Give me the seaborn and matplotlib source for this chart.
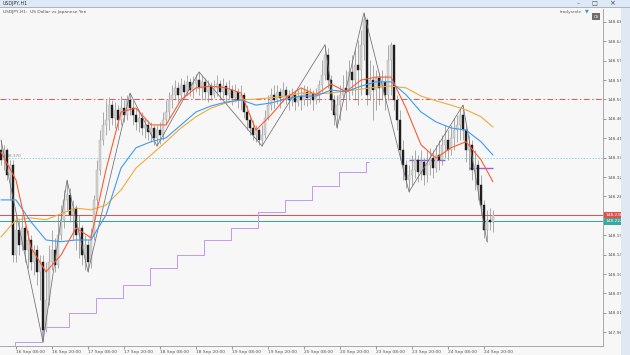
import numpy as np
import pandas as pd
import matplotlib
matplotlib.use("Agg")
import matplotlib.pyplot as plt
import matplotlib.transforms as mtransforms
from matplotlib.patches import Rectangle
import seaborn as sns

sns.set_theme(style="white")
plt.rcParams['font.family'] = ['DejaVu Sans']

# prices are stored in points above 148.000 (1 point = 0.001)
BASE = 148.0
PT = 0.001

open0_pts = 388
close_pts = [365, 388, 330, 353, 144, 202, 168, 207, 156, 179, 128, 156, 105, 128, -30, 40, 128, 156, 121, 191,
             226, 272, 284, 237, 253, 191, 207, 144, 168, 128, 191, 272, 342, 411, 446, 458, 492, 462, 481, 458,
             485, 469, 504, 485, 469, 453, 462, 439, 446, 430, 439, 416, 434, 423, 458, 476, 504, 516, 532, 516,
             539, 523, 546, 527, 541, 550, 532, 546, 523, 536, 516, 532, 541, 523, 536, 516, 527, 509, 523, 504,
             516, 476, 458, 439, 423, 434, 411, 423, 462, 492, 516, 504, 523, 509, 527, 513, 504, 516, 499, 513,
             504, 523, 509, 518, 504, 516, 539, 562, 608, 550, 504, 469, 492, 516, 532, 523, 569, 550, 585, 574,
             632, 690, 516, 550, 527, 555, 532, 546, 516, 597, 632, 504, 458, 388, 353, 318, 330, 342, 365, 337,
             360, 330, 353, 369, 346, 376, 365, 400, 411, 388, 416, 434, 446, 469, 434, 388, 400, 342, 353, 307,
             260, 202, 226, 221, 236]
high_pts = [411, 400, 393, 365, 365, 237, 226, 237, 214, 202, 191, 168, 168, 144, 144, 128, 168, 202, 184, 237,
            260, 295, 318, 300, 272, 260, 237, 214, 191, 179, 207, 284, 365, 434, 476, 504, 511, 504, 499, 492,
            513, 504, 516, 520, 504, 485, 481, 476, 462, 458, 453, 446, 446, 453, 476, 504, 523, 539, 550, 546,
            555, 550, 562, 555, 560, 564, 569, 560, 555, 550, 546, 550, 562, 550, 555, 546, 550, 539, 541, 532,
            539, 523, 492, 469, 458, 446, 439, 446, 481, 516, 532, 539, 539, 532, 546, 536, 527, 532, 527, 527,
            532, 539, 536, 532, 527, 532, 550, 597, 632, 625, 562, 516, 516, 539, 562, 574, 597, 608, 620, 643,
            666, 706, 694, 597, 585, 574, 569, 574, 562, 632, 639, 632, 516, 481, 411, 365, 353, 376, 388, 376,
            388, 369, 388, 393, 388, 400, 411, 423, 446, 434, 446, 462, 469, 485, 492, 446, 423, 411, 388, 365,
            330, 272, 249, 253, 249]
low_pts = [353, 342, 318, 272, 128, 128, 144, 156, 128, 114, 110, 98, 75, 40, -57, -34, 28, 110, 105, 114,
           179, 207, 249, 221, 179, 156, 137, 121, 110, 105, 114, 179, 260, 330, 400, 423, 434, 446, 439, 434,
           446, 453, 458, 469, 446, 434, 430, 423, 416, 411, 407, 400, 397, 402, 411, 446, 462, 485, 504, 499,
           504, 509, 516, 513, 509, 523, 516, 504, 504, 499, 504, 509, 513, 504, 509, 495, 504, 492, 499, 485,
           481, 462, 434, 423, 411, 407, 400, 397, 416, 458, 481, 485, 495, 485, 499, 495, 481, 490, 481, 490,
           481, 492, 490, 495, 481, 495, 499, 523, 550, 532, 481, 446, 439, 458, 504, 481, 504, 516, 504, 492,
           516, 597, 492, 504, 458, 481, 492, 504, 481, 504, 516, 481, 434, 365, 318, 300, 291, 307, 323, 314,
           318, 307, 314, 330, 323, 337, 342, 353, 369, 365, 376, 388, 407, 411, 411, 360, 342, 318, 295, 272,
           237, 184, 175, 202, 198]

# moving averages, read at every 5th bar
ma_idx = [0, 5, 10, 15, 20, 25, 30, 35, 40, 45, 50, 55, 60, 65, 70, 75, 80, 85, 90, 95,
          100, 105, 110, 115, 120, 125, 130, 135, 140, 145, 150, 155, 160, 164]
ma_fast_pts = [383, 318, 161, 105, 144, 207, 184, 342, 476, 485, 446, 446, 504, 532, 536, 532, 520, 434, 469, 509,
               532, 516, 541, 523, 550, 557, 557, 485, 400, 369, 393, 407, 365, 314]
ma_mid_pts = [272, 272, 221, 179, 175, 179, 179, 237, 346, 393, 407, 416, 446, 476, 490, 499, 504, 492, 497, 506,
              513, 513, 527, 523, 536, 546, 546, 516, 476, 453, 439, 434, 407, 376]
ma_slow_pts = [186, 226, 230, 226, 240, 253, 249, 260, 295, 346, 376, 407, 439, 465, 485, 497, 504, 506, 509, 513,
               520, 518, 520, 525, 529, 534, 536, 532, 513, 502, 492, 481, 465, 441]

# zigzag pivots
zz_idx = [0, 14, 22, 29, 43, 52, 66, 87, 108, 112, 121, 136, 154, 162]
zz_pts = [411, -57, 318, 105, 520, 397, 569, 397, 632, 439, 706, 291, 492, 175]

# purple staircase (bar edges and levels)
step_idx = [-0.5, 4.5, 13.5, 22.5, 31.5, 40.5, 49.5, 58.5, 67.5, 76.5, 85.5, 94.5, 103.5, 112.5, 121.5, 122.5]
step_pts = [-67, -57, -23, 10, 45, 75, 114, 144, 179, 207, 244, 272, 304, 337, 360]
seg_start = [136, 156]
seg_end = [148, 164]
seg_pts = [365, 346]

level_dashdot = 148.505
level_dotted = 148.370
bid_price = 148.236
ask_price = 148.222

price_ticks = [148.685, 148.640, 148.595, 148.550, 148.505, 148.460, 148.415, 148.370, 148.325, 148.280,
               148.190, 148.145, 148.100, 148.055, 148.010, 147.965]
time_idx = [5, 17, 29, 41, 53, 65, 77, 89, 101, 113, 125, 137, 149, 161]
time_labels = ['16 Sep 08:00', '16 Sep 20:00', '17 Sep 08:00', '17 Sep 20:00', '18 Sep 08:00',
               '18 Sep 20:00', '19 Sep 08:00', '19 Sep 20:00', '20 Sep 08:00', '20 Sep 20:00',
               '23 Sep 08:00', '23 Sep 20:00', '24 Sep 08:00', '24 Sep 20:00']

W, H = 630, 355


def to_price(pts):
    return BASE + np.asarray(pts, dtype=float) * PT


closes = to_price(close_pts)
opens = np.concatenate([[to_price(open0_pts)], closes[:-1]])
highs = np.maximum(to_price(high_pts), np.maximum(opens, closes))
lows = np.minimum(to_price(low_pts), np.minimum(opens, closes))
bars = pd.DataFrame({'idx': np.arange(len(closes)), 'open': opens, 'high': highs,
                     'low': lows, 'close': closes})
ma_df = pd.DataFrame({'idx': ma_idx, 'fast': to_price(ma_fast_pts),
                      'mid': to_price(ma_mid_pts), 'slow': to_price(ma_slow_pts)})

fig = plt.figure(figsize=(W / 100, H / 100), dpi=100, facecolor='#f7f7f7')
ax = fig.add_axes([0, 9 / H, 603 / W, 337 / H])
ax.set_facecolor('#f7f7f7')

# horizontal levels
ax.axhline(level_dashdot, color='#ff4a4a', lw=0.7, ls=(0, (6, 2.5, 1.5, 2.5)))
ax.axhline(level_dotted, color='#8fd8e2', lw=0.7, ls=(0, (1.5, 1.5)))
ax.axhline(bid_price, color='#e85048', lw=0.7, antialiased=False)
ax.axhline(ask_price, color='#35a898', lw=0.7, antialiased=False)

# purple staircase
stair = to_price(step_pts)
ax.step(step_idx, np.append(stair, stair[-1]), where='post', color='#bf9af5', lw=0.7)
ax.hlines(to_price(seg_pts), seg_start, seg_end, color='#9b59e6', lw=1.0)

# candles
bull = bars['close'] >= bars['open']
ax.vlines(bars['idx'], bars['low'], bars['high'], color='#8a8a8a', lw=0.5, zorder=3)
ax.bar(bars['idx'][bull], (bars['close'] - bars['open'])[bull], bottom=bars['open'][bull],
       width=0.7, color='#d4d4d4', edgecolor='#a8a8a8', linewidth=0.3, zorder=4)
ax.bar(bars['idx'][~bull], (bars['close'] - bars['open'])[~bull], bottom=bars['open'][~bull],
       width=0.7, color='#1e1e1e', edgecolor='#1e1e1e', linewidth=0.3, zorder=4)

# zigzag and moving averages
ax.plot(zz_idx, to_price(zz_pts), color='#6e6e6e', lw=0.55, zorder=5)
sns.lineplot(data=ma_df, x='idx', y='slow', ax=ax, color='#f0aa3c', lw=0.8, zorder=6)
sns.lineplot(data=ma_df, x='idx', y='mid', ax=ax, color='#3d9bf5', lw=0.8, zorder=6)
sns.lineplot(data=ma_df, x='idx', y='fast', ax=ax, color='#ff5b2e', lw=0.8, zorder=6)

ax.set_xlim(-1 / 3, 602 / 3)
ax.set_ylim(147.933, 148.715)
ax.set_xlabel('')
ax.set_ylabel('')

ax.yaxis.tick_right()
ax.set_yticks(price_ticks)
ax.set_yticklabels([f'{p:.3f}' for p in price_ticks])
ax.set_xticks(time_idx)
ax.set_xticklabels(time_labels, ha='left')
ax.tick_params(axis='both', labelsize=3.2, colors='#555555', length=1.8, width=0.4, pad=1.2)
ax.tick_params(axis='y', right=True, left=False)
ax.tick_params(axis='x', bottom=True)
for s in ['top', 'left']:
    ax.spines[s].set_visible(False)
for s in ['right', 'bottom']:
    ax.spines[s].set_color('#9a9a9a')
    ax.spines[s].set_linewidth(0.6)

# price boxes on the axis
trans = mtransforms.blended_transform_factory(ax.transAxes, ax.transData)
ax.text(1.004, bid_price, f'{bid_price:.3f}', transform=trans, fontsize=3.1, color='white',
        va='center', ha='left', bbox=dict(boxstyle='square,pad=0.25', fc='#e0504a', ec='none'))
ax.text(1.004, ask_price, f'{ask_price:.3f}', transform=trans, fontsize=3.1, color='white',
        va='center', ha='left', bbox=dict(boxstyle='square,pad=0.25', fc='#3aa89a', ec='none'))
ax.text(0.008, level_dotted, f'{level_dotted:.3f}', transform=trans, fontsize=3.0,
        color='#8a8a8a', va='bottom', ha='left')

# window frame
fig.patches.append(Rectangle((0, 1 - 7 / H), 1, 7 / H, transform=fig.transFigure,
                             fc='#dde9f7', ec='none', zorder=0))
fig.patches.append(Rectangle((0, 1 - 8 / H), 1, 1 / H, transform=fig.transFigure,
                             fc='#aab4c2', ec='none', zorder=0))
fig.patches.append(Rectangle((621 / W, 0), 9 / W, 1 - 8 / H, transform=fig.transFigure,
                             fc='#dfe8f3', ec='none', zorder=0))
fig.text(3 / W, 1 - 3.5 / H, 'USDJPY,H1', fontsize=3.4, color='#333333', va='center')
fig.text(578 / W, 1 - 3.5 / H, '–', fontsize=4.5, color='#444444', va='center', ha='center')
fig.text(594 / W, 1 - 3.5 / H, '□', fontsize=4.5, color='#444444', va='center', ha='center')
fig.text(612 / W, 1 - 3.5 / H, '×', fontsize=5, color='#444444', va='center', ha='center')
fig.text(3 / W, 1 - 12 / H, 'USDJPY,H1:  US Dollar vs Japanese Yen', fontsize=3.2,
         color='#555555', va='center')
fig.text(560 / W, 1 - 11.5 / H, 'tradysrole', fontsize=3.2, color='#666666', va='center')
fig.text(585 / W, 1 - 11 / H, '▼', fontsize=3.5, color='#3a8fd8', va='center')
fig.text(596 / W, 1 - 16.5 / H, 'CS', fontsize=2.8, color='white', va='center', ha='center',
         bbox=dict(boxstyle='square,pad=0.35', fc='#6e6e6e', ec='none'))

fig.savefig('out.png', dpi=100, facecolor=fig.get_facecolor())
